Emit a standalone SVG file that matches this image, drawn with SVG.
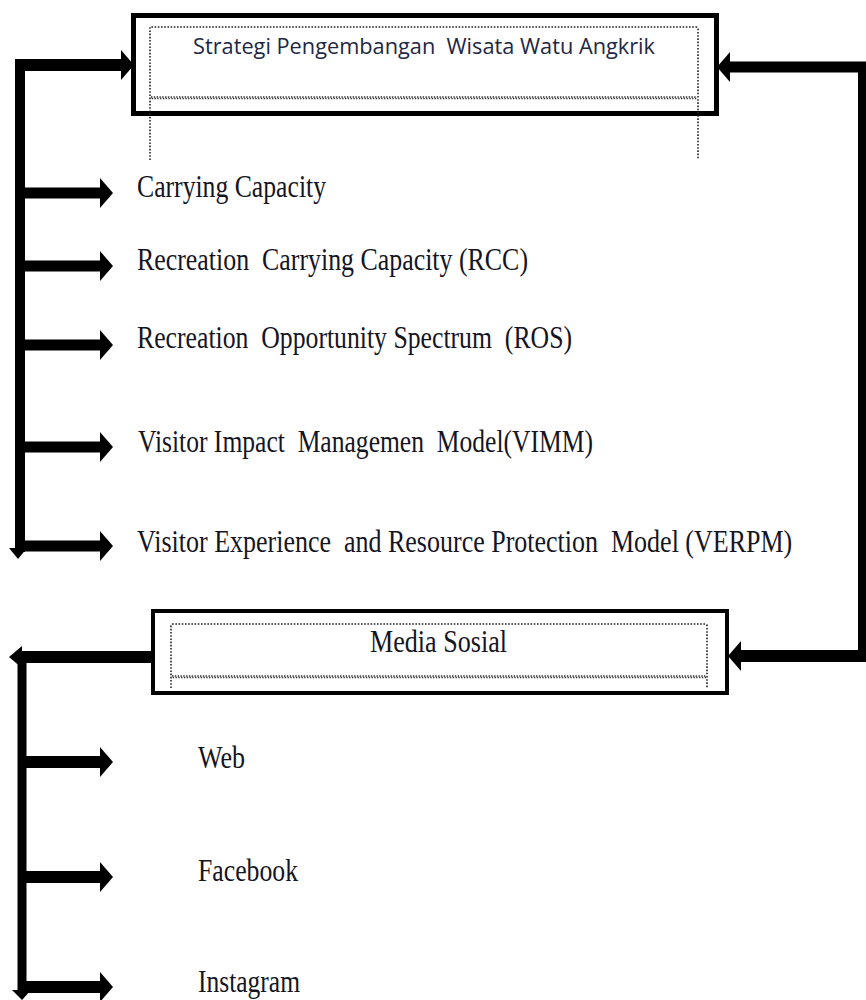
<svg xmlns="http://www.w3.org/2000/svg" width="866" height="1000" viewBox="0 0 866 1000">
<style>
.box{fill:#fff;stroke:#000}
.dot{fill:none;stroke:#222;stroke-width:1.6;stroke-dasharray:1.6,1.6}
.wave{fill:none;stroke:#333;stroke-width:1.4;stroke-dasharray:1.4,1.4}
.conn{fill:none;stroke:#000;stroke-linecap:butt}
text{white-space:pre}
.serif{font-family:"Liberation Serif","Times New Roman",serif;font-size:32px;fill:#15151f}
.sans{font-family:"Open Sans","Liberation Sans",sans-serif;font-size:21px;fill:#1e2744}
</style>
<defs>
<marker id="ah" markerUnits="userSpaceOnUse" markerWidth="14" markerHeight="30" refX="3" refY="15" orient="auto" viewBox="0 0 14 30">
<path d="M0,0 L13,15 L0,30 Z" fill="#000"/>
</marker>
</defs>
<g id="node-strategi">
<rect class="box" x="133.5" y="15.5" width="583" height="98" stroke-width="5"/>
<path class="dot" d="M150,160 V27 H696 Q698,27 698,29 V160"/>
<path class="wave" d="M151,97 H697"/>
<path class="wave" d="M151.7,98.5 H697"/>
<text class="sans" x="193" y="54" textLength="462" lengthAdjust="spacingAndGlyphs">Strategi Pengembangan  Wisata Watu Angkrik</text>
</g>
<g id="node-cc"><text class="serif" x="137" y="197" textLength="189" lengthAdjust="spacingAndGlyphs">Carrying Capacity</text></g>
<g id="node-rcc"><text class="serif" x="137" y="270" textLength="391" lengthAdjust="spacingAndGlyphs">Recreation  Carrying Capacity (RCC)</text></g>
<g id="node-ros"><text class="serif" x="137" y="348" textLength="435" lengthAdjust="spacingAndGlyphs">Recreation  Opportunity Spectrum  (ROS)</text></g>
<g id="node-vimm"><text class="serif" x="138" y="452" textLength="455" lengthAdjust="spacingAndGlyphs">Visitor Impact  Managemen  Model(VIMM)</text></g>
<g id="node-verpm"><text class="serif" transform="translate(137,552) scale(0.8,1)" x="0" y="0" textLength="819" lengthAdjust="spacingAndGlyphs">Visitor Experience  and Resource Protection  Model (VERPM)</text></g>
<g id="node-media">
<rect class="box" x="153" y="611" width="574" height="82" stroke-width="4"/>
<path class="dot" d="M171,688 V626 Q171,624 173,624 H705 Q707,624 707,626 V688"/>
<path class="wave" d="M172,676 H706"/>
<path class="wave" d="M172.7,677.5 H706"/>
<text class="serif" x="370" y="652" textLength="137" lengthAdjust="spacingAndGlyphs">Media Sosial</text>
</g>
<g id="node-web"><text class="serif" x="198" y="768" textLength="47" lengthAdjust="spacingAndGlyphs">Web</text></g>
<g id="node-facebook"><text class="serif" x="198" y="881" textLength="100" lengthAdjust="spacingAndGlyphs">Facebook</text></g>
<g id="node-instagram"><text class="serif" x="198" y="992" textLength="102" lengthAdjust="spacingAndGlyphs">Instagram</text></g>
<g id="connectors">
<line class="conn" x1="20" y1="59" x2="20" y2="552" stroke-width="10"/>
<line class="conn" x1="15" y1="65" x2="124" y2="65" stroke-width="12" marker-end="url(#ah)"/>
<line class="conn" x1="20" y1="193" x2="103" y2="193" stroke-width="11" marker-end="url(#ah)"/>
<line class="conn" x1="20" y1="266" x2="103" y2="266" stroke-width="11" marker-end="url(#ah)"/>
<line class="conn" x1="20" y1="345" x2="103" y2="345" stroke-width="11" marker-end="url(#ah)"/>
<line class="conn" x1="20" y1="447" x2="103" y2="447" stroke-width="11" marker-end="url(#ah)"/>
<line class="conn" x1="20" y1="546" x2="103" y2="546" stroke-width="11" marker-end="url(#ah)"/>
<polygon points="9,548 27,548 18,559" fill="#000"/>
<line class="conn" x1="862" y1="62" x2="862" y2="662" stroke-width="8"/>
<line class="conn" x1="866" y1="67" x2="727" y2="67" stroke-width="11" marker-end="url(#ah)"/>
<line class="conn" x1="866" y1="656" x2="738" y2="656" stroke-width="12" marker-end="url(#ah)"/>
<line class="conn" x1="152" y1="657" x2="20" y2="657" stroke-width="12"/>
<polygon points="9,657 22,646 22,668" fill="#000"/>
<line class="conn" x1="22" y1="651" x2="22" y2="994" stroke-width="9"/>
<line class="conn" x1="22" y1="762" x2="103" y2="762" stroke-width="12" marker-end="url(#ah)"/>
<line class="conn" x1="22" y1="877" x2="103" y2="877" stroke-width="12" marker-end="url(#ah)"/>
<line class="conn" x1="22" y1="987" x2="103" y2="987" stroke-width="12" marker-end="url(#ah)"/>
<polygon points="12,990 31,990 22,1000" fill="#000"/>
</g>
</svg>
